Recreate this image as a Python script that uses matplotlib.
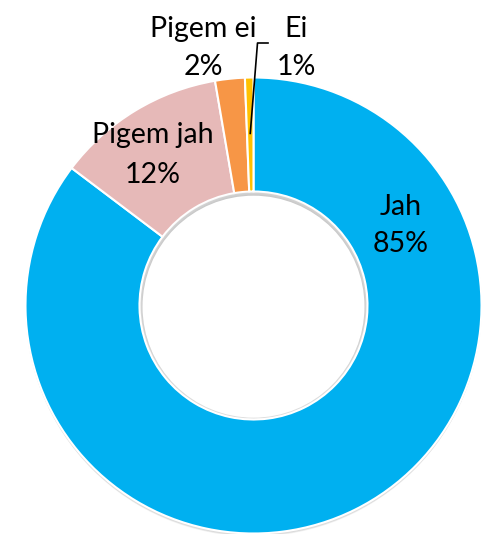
import numpy as np
import matplotlib
matplotlib.use("Agg")
import matplotlib.pyplot as plt
from matplotlib.patches import Circle

categories = ["Jah", "Pigem jah", "Pigem ei", "Ei"]
values = [85.3, 12.0, 2.1, 0.6]
pct_labels = ["85%", "12%", "2%", "1%"]
colors = ["#00B0F0", "#E6B9B8", "#F79646", "#FFC000"]

W, H = 500, 534
fig = plt.figure(figsize=(W / 100, H / 100), dpi=100)
ax = fig.add_axes([0, 0, 1, 1])

cx, cy = 253.5, H - 305.5
R = 228
hole = 0.5

# soft shadow under the ring
for i in range(4):
    ax.add_patch(Circle((cx, cy - 1.5 - i * 0.7), R + 0.5 - i * 0.3, color="black",
                        alpha=0.035, lw=0, zorder=1))

wedges, _ = ax.pie(values, colors=colors, startangle=90, counterclock=False,
                   center=(cx, cy), radius=R, frame=True,
                   wedgeprops=dict(width=R * (1 - hole), edgecolor="white", linewidth=1.5))
for w in wedges:
    w.set_zorder(2)
ax.set_xlim(0, W)
ax.set_ylim(0, H)
ax.set_aspect("equal")
ax.axis("off")

# inner hole shadow (soft, mostly at the top)
for i in range(4):
    ax.add_patch(Circle((cx, cy + 1.0 - i * 0.5), R * hole - 1.2 - i * 0.6, color="black",
                        alpha=0.018, lw=0, zorder=3))
ax.add_patch(Circle((cx, cy - 1.2), R * hole - 3.0, color="white", lw=0, zorder=4))

font = dict(family=["Lato", "DejaVu Sans"], fontsize=20.5, color="black", zorder=6)
# (x centre, baseline of name, baseline of percent) in pixels from top
label_pos = [(401, 215, 252), (153, 143, 183), (203, 37, 75), (296.5, 37, 75)]
for name, pct, (x, y1, y2) in zip(categories, pct_labels, label_pos):
    ax.text(x, H - y1, name, ha="center", va="baseline", **font)
    ax.text(x, H - y2, pct, ha="center", va="baseline", **font)

# leader line for the smallest slice
w = wedges[3]
mid = np.deg2rad((w.theta1 + w.theta2) / 2)
ex, ey = cx + 0.755 * R * np.cos(mid), cy + 0.755 * R * np.sin(mid)
ax.plot([268, 257.5, ex], [H - 43, H - 43, ey], color="black", lw=1.2, zorder=7)

fig.savefig("out.png", dpi=100)
